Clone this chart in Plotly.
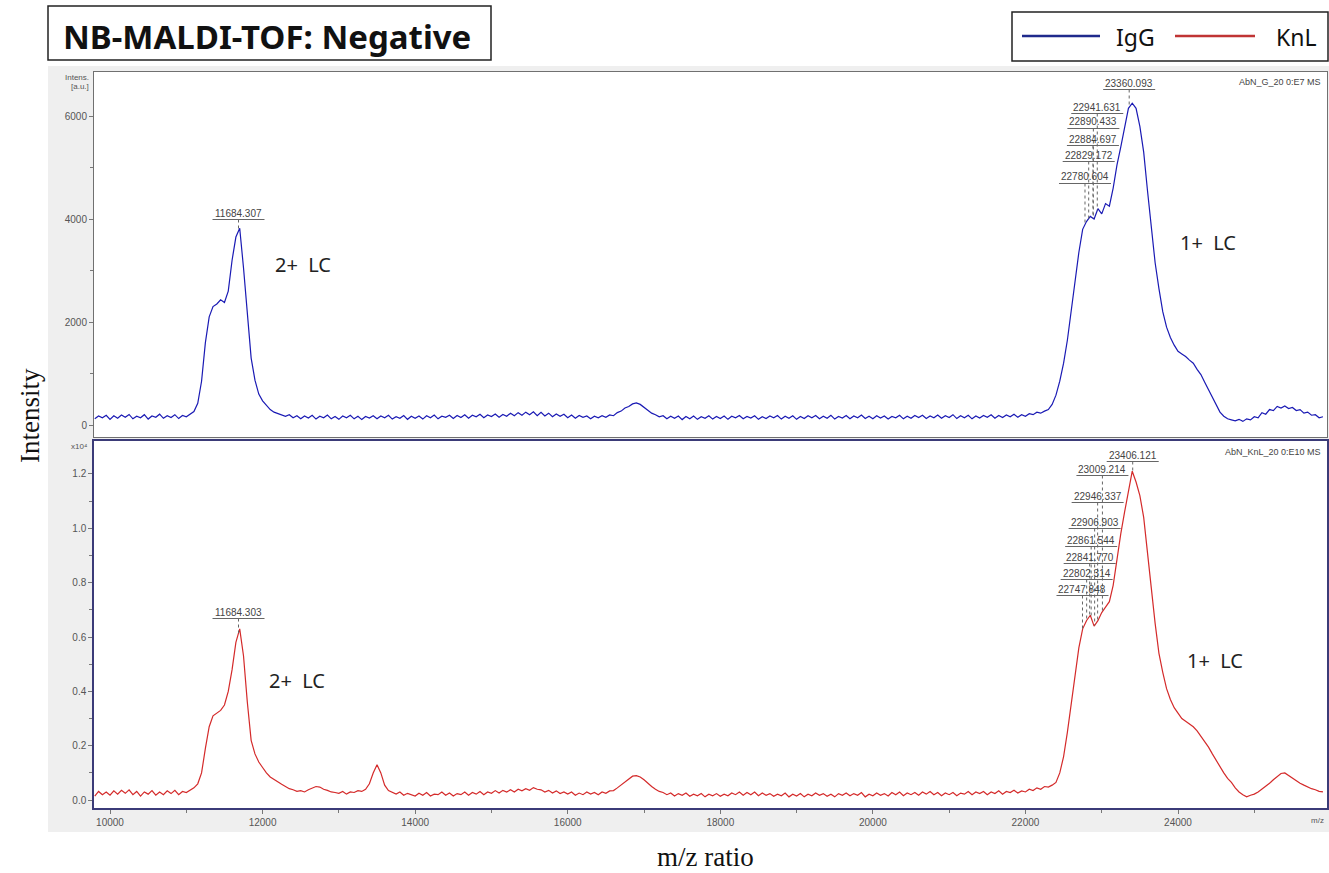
import numpy as np
import plotly.graph_objects as go

# ------------------------------------------------------------------ data
mz = list(range(9800, 25901, 50))  # m/z sampling grid (Da)

igg = [  # IgG intensity (a.u.), one row per 1000 Da
    120, 175, 140, 190,
    110, 180, 130, 195, 150, 205, 120, 170, 140, 200, 115, 175, 150, 210, 130, 180, 145, 200, 125, 185,
    160, 215, 260, 420, 850, 1600, 2100, 2300, 2350, 2430, 2380, 2600, 3200, 3650, 3820, 3050, 2100, 1300, 870, 600,
    470, 380, 300, 250, 220, 190, 170, 200, 140, 180, 120, 175, 135, 190, 115, 170, 140, 195, 120, 165,
    110, 175, 140, 190, 120, 170, 105, 165, 135, 180, 120, 175, 140, 190, 115, 160, 130, 185, 110, 170,
    130, 175, 115, 180, 140, 195, 120, 170, 150, 190, 125, 185, 145, 200, 130, 190, 160, 210, 140, 195,
    165, 215, 150, 205, 170, 230, 180, 240, 190, 250, 200, 255, 180, 245, 175, 230, 160, 215, 170, 210,
    140, 195, 130, 185, 150, 175, 120, 170, 140, 180, 150, 195, 180, 240, 270, 330, 360, 410, 430, 400,
    340, 290, 230, 200, 160, 180, 120, 170, 130, 175, 105, 165, 120, 175, 110, 160, 130, 180, 115, 165,
    125, 175, 110, 170, 140, 185, 120, 165, 135, 180, 110, 160, 125, 175, 140, 185, 115, 170, 130, 180,
    110, 165, 125, 180, 140, 185, 120, 170, 130, 190, 115, 165, 135, 185, 120, 175, 140, 195, 125, 170,
    120, 180, 135, 175, 115, 165, 140, 190, 120, 170, 130, 185, 145, 190, 125, 175, 140, 195, 130, 180,
    145, 200, 125, 180, 140, 190, 120, 175, 135, 185, 150, 200, 130, 185, 145, 195, 160, 210, 150, 200,
    170, 220, 200, 250, 230, 270, 300, 400, 580, 850, 1200, 1650, 2250, 2850, 3350, 3800, 3950, 4050, 4000, 4200,
    4100, 4300, 4250, 4600, 5050, 5400, 5800, 6150, 6250, 6150, 5800, 5300, 4550, 3800, 3150, 2650, 2200, 1900, 1700, 1550,
    1430, 1380, 1330, 1260, 1200, 1080, 980, 830, 680, 520, 380, 250, 170, 120, 100, 80, 110, 70, 120, 100,
    160, 140, 240, 210, 300, 280, 360, 330, 370, 320, 340, 280, 300, 230, 250, 190, 200, 140, 160,
]

knl = [  # KnL intensity (x10^4 a.u.), one row per 1000 Da
    0.015, 0.032, 0.020, 0.030,
    0.018, 0.034, 0.022, 0.036, 0.025, 0.038, 0.020, 0.032, 0.015, 0.030, 0.022, 0.035, 0.018, 0.030, 0.020, 0.034, 0.024, 0.036, 0.020, 0.032,
    0.028, 0.038, 0.045, 0.060, 0.100, 0.190, 0.270, 0.310, 0.320, 0.330, 0.350, 0.400, 0.480, 0.580, 0.630, 0.530, 0.360, 0.220, 0.170, 0.140,
    0.120, 0.100, 0.085, 0.075, 0.065, 0.058, 0.050, 0.042, 0.038, 0.032, 0.035, 0.030, 0.038, 0.045, 0.050, 0.048, 0.040, 0.036, 0.030, 0.028,
    0.025, 0.032, 0.022, 0.030, 0.028, 0.035, 0.032, 0.040, 0.060, 0.100, 0.130, 0.100, 0.055, 0.035, 0.028, 0.022, 0.030, 0.018, 0.025, 0.020,
    0.015, 0.025, 0.018, 0.028, 0.015, 0.022, 0.020, 0.030, 0.018, 0.026, 0.015, 0.024, 0.020, 0.030, 0.018, 0.028, 0.022, 0.032, 0.020, 0.030,
    0.025, 0.035, 0.026, 0.036, 0.030, 0.038, 0.030, 0.040, 0.034, 0.042, 0.036, 0.046, 0.040, 0.038, 0.030, 0.036, 0.026, 0.034, 0.024, 0.030,
    0.022, 0.030, 0.018, 0.026, 0.020, 0.030, 0.022, 0.028, 0.020, 0.030, 0.025, 0.034, 0.035, 0.045, 0.055, 0.068, 0.078, 0.088, 0.090, 0.085,
    0.075, 0.062, 0.050, 0.040, 0.032, 0.028, 0.020, 0.026, 0.015, 0.024, 0.018, 0.026, 0.014, 0.022, 0.016, 0.024, 0.012, 0.022, 0.016, 0.024,
    0.014, 0.022, 0.016, 0.026, 0.020, 0.030, 0.018, 0.028, 0.020, 0.030, 0.016, 0.026, 0.018, 0.024, 0.014, 0.022, 0.016, 0.026, 0.012, 0.022,
    0.015, 0.024, 0.012, 0.022, 0.016, 0.026, 0.018, 0.024, 0.014, 0.022, 0.012, 0.024, 0.018, 0.026, 0.016, 0.024, 0.018, 0.028, 0.012, 0.022,
    0.016, 0.026, 0.018, 0.024, 0.015, 0.028, 0.020, 0.030, 0.016, 0.026, 0.020, 0.028, 0.018, 0.030, 0.022, 0.032, 0.020, 0.028, 0.016, 0.026,
    0.020, 0.028, 0.016, 0.026, 0.022, 0.032, 0.020, 0.030, 0.024, 0.032, 0.020, 0.030, 0.024, 0.034, 0.022, 0.032, 0.028, 0.036, 0.026, 0.034,
    0.030, 0.040, 0.035, 0.045, 0.040, 0.050, 0.048, 0.055, 0.065, 0.100, 0.160, 0.250, 0.360, 0.460, 0.560, 0.630, 0.660, 0.680, 0.640, 0.660,
    0.690, 0.710, 0.730, 0.790, 0.890, 0.980, 1.060, 1.140, 1.210, 1.170, 1.120, 1.040, 0.920, 0.780, 0.650, 0.540, 0.470, 0.410, 0.370, 0.340,
    0.320, 0.300, 0.290, 0.280, 0.270, 0.255, 0.235, 0.215, 0.195, 0.170, 0.145, 0.120, 0.100, 0.080, 0.065, 0.045, 0.030, 0.020, 0.012, 0.018,
    0.022, 0.030, 0.040, 0.050, 0.062, 0.075, 0.085, 0.098, 0.100, 0.090, 0.080, 0.072, 0.062, 0.055, 0.048, 0.042, 0.038, 0.032, 0.030,
]

x_tick_vals = [10000, 12000, 14000, 16000, 18000, 20000, 22000, 24000]
x_tick_text = ["10000", "12000", "14000", "16000", "18000", "20000", "22000", "24000"]
top_tick_vals = [0, 2000, 4000, 6000]
top_tick_text = ["0", "2000", "4000", "6000"]
bot_tick_vals = [0.0, 0.2, 0.4, 0.6, 0.8, 1.0, 1.2]
bot_tick_text = ["0.0", "0.2", "0.4", "0.6", "0.8", "1.0", "1.2"]

igg_peaks = [23360.093, 22941.631, 22890.433, 22884.697, 22829.172, 22780.604, 11684.307]
knl_peaks = [23406.121, 23009.214, 22946.337, 22906.903, 22861.544, 22841.770,
             22802.314, 22747.848, 11684.303]

series_names = ["IgG", "KnL"]

# ------------------------------------------------------------------ layout constants
W, H = 1329, 873
BLUE = "#1a1ab4"
RED = "#d42a2a"
LEG_BLUE = "#1f2a8c"
LEG_RED = "#c03434"
F_SANS = "Noto Sans, Open Sans, sans-serif"
F_ARIAL = "Liberation Sans, Arial, sans-serif"
F_SERIF = "Liberation Serif, Times New Roman, serif"

X_RANGE = [9790, 25953]
TOP_RANGE = [-233, 6855]
BOT_RANGE = [-0.029, 1.321]
PL, PR = 94, 1327
TOP_T, TOP_B = 72, 437
BOT_T, BOT_B = 441, 808

# pixel y of the peak-label texts (layout positions)
igg_label_py = [83, 107, 122, 139, 155, 177, 213]
knl_label_py = [455, 469, 496, 522, 540, 557, 573, 589, 612]


def fx(px):
    return px / W


def fy(py):
    return 1 - py / H


top_dom = [fy(TOP_B), fy(TOP_T)]
bot_dom = [fy(BOT_B), fy(BOT_T)]
x_dom = [fx(PL), fx(PR)]
da_per_px = (X_RANGE[1] - X_RANGE[0]) / (PR - PL)


def val_to_paper(v, rng, dom):
    return dom[0] + (v - rng[0]) / (rng[1] - rng[0]) * (dom[1] - dom[0])


fig = go.Figure()
fig.add_trace(go.Scatter(x=mz, y=igg, mode="lines", name=series_names[0],
                         line=dict(color=BLUE, width=1.2), xaxis="x", yaxis="y"))
fig.add_trace(go.Scatter(x=mz, y=knl, mode="lines", name=series_names[1],
                         line=dict(color=RED, width=1.2), xaxis="x2", yaxis="y2"))

tickfont = dict(family=F_ARIAL, size=10, color="#555")

fig.update_layout(
    width=W, height=H, margin=dict(l=0, r=0, t=0, b=0),
    paper_bgcolor="white", plot_bgcolor="white", showlegend=False,
    xaxis=dict(domain=x_dom, range=X_RANGE, anchor="y", showticklabels=False, ticks="",
               showline=True, mirror=True, linecolor="#707070", linewidth=1,
               showgrid=False, zeroline=False),
    yaxis=dict(domain=top_dom, range=TOP_RANGE, anchor="x", tickvals=top_tick_vals,
               ticktext=top_tick_text,
               ticks="outside", ticklen=4, tickcolor="#777", tickfont=tickfont,
               minor=dict(tickvals=[1000, 3000, 5000], ticks="outside", ticklen=3, tickcolor="#777"),
               showline=True, mirror=True, linecolor="#707070", linewidth=1,
               showgrid=False, zeroline=False),
    xaxis2=dict(domain=x_dom, range=X_RANGE, anchor="y2", tickvals=x_tick_vals,
                ticktext=x_tick_text,
                ticks="outside", ticklen=4, tickcolor="#777", tickfont=tickfont,
                minor=dict(tickvals=[11000, 13000, 15000, 17000, 19000, 21000, 23000, 25000],
                           ticks="outside", ticklen=3, tickcolor="#777"),
                showline=True, mirror=True, linecolor="#3b3b78", linewidth=1.5,
                showgrid=False, zeroline=False),
    yaxis2=dict(domain=bot_dom, range=BOT_RANGE, anchor="x2", tickvals=bot_tick_vals,
                ticktext=bot_tick_text, ticks="outside", ticklen=4, tickcolor="#777",
                tickfont=tickfont,
                minor=dict(tickvals=[0.1, 0.3, 0.5, 0.7, 0.9, 1.1], ticks="outside",
                           ticklen=3, tickcolor="#777"),
                showline=True, mirror=True, linecolor="#3b3b78", linewidth=1.5,
                showgrid=False, zeroline=False),
)

# background panel (screenshot-like grey) with white plot areas
fig.add_shape(type="rect", xref="paper", yref="paper", x0=fx(48), x1=1, y0=fy(832), y1=fy(66),
              fillcolor="#efefef", line=dict(width=0), layer="below")
for t, b in [(TOP_T, TOP_B), (BOT_T, BOT_B)]:
    fig.add_shape(type="rect", xref="paper", yref="paper", x0=fx(PL), x1=fx(PR), y0=fy(b), y1=fy(t),
                  fillcolor="white", line=dict(width=0), layer="below")


def add_peak_labels(peaks, label_py, spectrum, rng, dom, xref):
    for pk, py in zip(peaks, label_py):
        fig.add_annotation(x=pk, xref=xref, y=fy(py), yref="paper", text=f"{pk:.3f}",
                           showarrow=False, xanchor="center", yanchor="middle",
                           font=dict(family=F_ARIAL, size=10, color="#444"))
        half = 26 * da_per_px
        uy = fy(py + 6.5)
        fig.add_shape(type="line", xref=xref, yref="paper", x0=pk - half, x1=pk + half,
                      y0=uy, y1=uy, line=dict(color="#666", width=1))
        yv = float(np.interp(pk, mz, spectrum))
        fig.add_shape(type="line", xref=xref, yref="paper", x0=pk, x1=pk, y0=uy,
                      y1=val_to_paper(yv, rng, dom),
                      line=dict(color="#666", width=1, dash="dot"))


add_peak_labels(igg_peaks, igg_label_py, igg, TOP_RANGE, top_dom, "x")
add_peak_labels(knl_peaks, knl_label_py, knl, BOT_RANGE, bot_dom, "x2")


def txt(px, py, text, size, family=F_SANS, color="#222", xanchor="center", textangle=0):
    fig.add_annotation(x=fx(px), y=fy(py), xref="paper", yref="paper", text=text, showarrow=False,
                       xanchor=xanchor, yanchor="middle", textangle=textangle,
                       font=dict(family=family, size=size, color=color))


# small instrument texts
txt(91, 77, "Intens.", 8, F_ARIAL, "#555", xanchor="right")
txt(91, 87, "[a.u.]", 8, F_ARIAL, "#555", xanchor="right")
txt(90, 447, "x10\u2074", 8, F_ARIAL, "#555", xanchor="right")
txt(1326, 820, "m/z", 8, F_ARIAL, "#555", xanchor="right")
txt(1323, 82, "AbN_G_20 0:E7 MS", 9, F_ARIAL, "#444", xanchor="right")
txt(1323, 452, "AbN_KnL_20 0:E10 MS", 9, F_ARIAL, "#444", xanchor="right")

# peak-group labels
txt(303, 264, "2+\u00a0\u00a0LC", 20)
txt(1208, 242, "1+\u00a0\u00a0LC", 20)
txt(297, 680, "2+\u00a0\u00a0LC", 20)
txt(1215, 660, "1+\u00a0\u00a0LC", 20)

# axis titles
txt(30, 416, "Intensity", 27, F_SERIF, "#111", textangle=-90)
txt(705, 857, "m/z ratio", 27, F_SERIF, "#111")

# title box
fig.add_shape(type="rect", xref="paper", yref="paper", x0=fx(48), x1=fx(491), y0=fy(60), y1=fy(6),
              fillcolor="white", line=dict(color="#222", width=1.5))
txt(267, 37, "<b>NB-MALDI-TOF: Negative</b>", 33, F_SANS, "#111")

# legend box
fig.add_shape(type="rect", xref="paper", yref="paper", x0=fx(1012), x1=fx(1328), y0=fy(61), y1=fy(12),
              fillcolor="white", line=dict(color="#222", width=1.5))
fig.add_shape(type="line", xref="paper", yref="paper", x0=fx(1022), x1=fx(1100), y0=fy(36), y1=fy(36),
              line=dict(color=LEG_BLUE, width=2.5))
fig.add_shape(type="line", xref="paper", yref="paper", x0=fx(1175), x1=fx(1255), y0=fy(36), y1=fy(36),
              line=dict(color=LEG_RED, width=2.5))
txt(1135, 37, series_names[0], 23, F_SANS, "#111")
txt(1296, 37, series_names[1], 23, F_SANS, "#111")

fig.write_html("out.html")
